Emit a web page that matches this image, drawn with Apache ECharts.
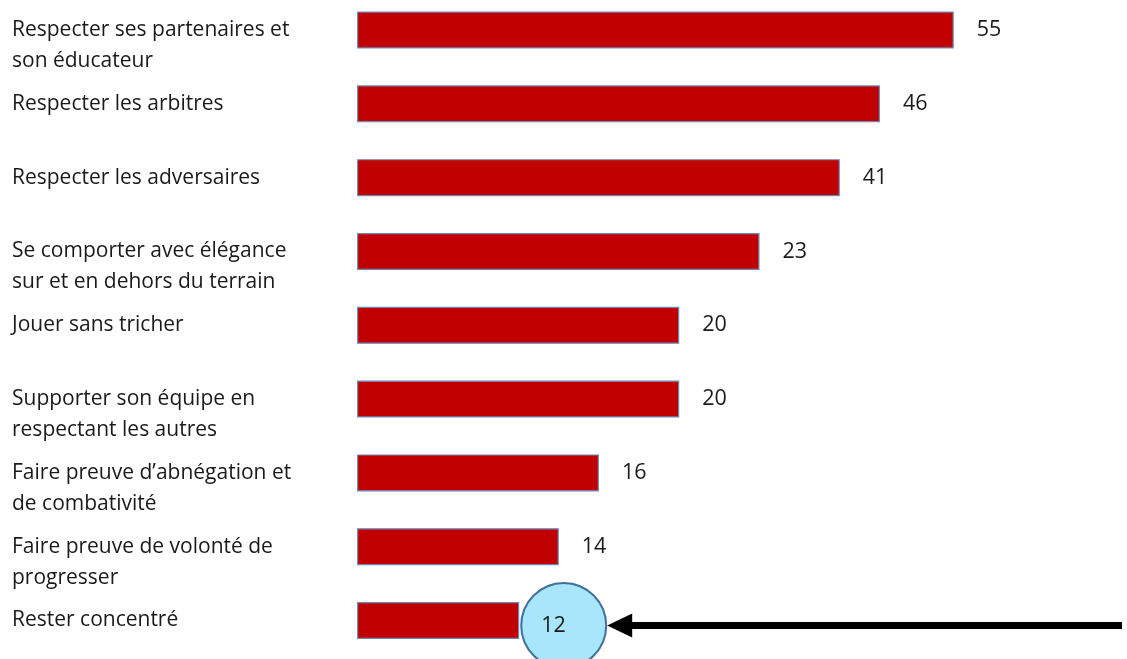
<!DOCTYPE html>
<html>
<head>
<meta charset="utf-8">
<script src="https://cdn.jsdelivr.net/npm/echarts@6/dist/echarts.min.js"></script>
<style>
html,body{margin:0;padding:0;background:#fff;}
#chart{width:1127px;height:659px;}
</style>
</head>
<body>
<div id="chart"></div>
<script>
// Categories (top to bottom)
const categories = [
  'Respecter ses partenaires et\nson éducateur',
  'Respecter les arbitres',
  'Respecter les adversaires',
  'Se comporter avec élégance\nsur et en dehors du terrain',
  'Jouer sans tricher',
  'Supporter son équipe en\nrespectant les autres',
  'Faire preuve d’abnégation et\nde combativité',
  'Faire preuve de volonté de\nprogresser',
  'Rester concentré'
];
// Printed values
const values = [55, 46, 41, 23, 20, 20, 16, 14, 12];
// Drawn bar lengths (same scale as the 55 bar)
const barLengths = [55, 48.2, 44.5, 37.1, 29.7, 29.7, 22.3, 18.6, 14.95];
const highlightIndex = 8;

const FONT = '"Open Sans", "Noto Sans", sans-serif';
const chart = echarts.init(document.getElementById('chart'), null, {renderer: 'canvas'});

const data = barLengths.map((v, i) => {
  const item = {value: v};
  if (i === highlightIndex) {
    item.label = {
      distance: 3,
      width: 64,
      height: 78,
      lineHeight: 78,
      padding: [5, 0, 0, 19],
      backgroundColor: '#a7e6fb',
      borderColor: '#41719c',
      borderWidth: 2,
      borderRadius: 42,
      offset: [0, 5]
    };
  }
  return item;
});

chart.setOption({
  animation: false,
  backgroundColor: '#ffffff',
  grid: {left: 357, width: 651, top: 30, bottom: 38.5, containLabel: false, outerBoundsMode: 'none'},
  xAxis: {type: 'value', min: 0, max: 60, show: false},
  yAxis: {
    type: 'category',
    data: categories,
    inverse: true,
    boundaryGap: false,
    axisLine: {show: false},
    axisTick: {show: false},
    splitLine: {show: false},
    axisLabel: {
      align: 'left',
      margin: 345,
      fontFamily: FONT,
      fontSize: 21,
      lineHeight: 31,
      color: '#1a1a1a',
      formatter: v => (v.indexOf('\n') >= 0 ? '\n' + v : v)
    }
  },
  series: [{
    type: 'bar',
    data: data,
    barWidth: 37,
    itemStyle: {color: '#c00000', borderColor: '#6d8bb5', borderWidth: 1.2},
    label: {
      show: true,
      position: 'right',
      distance: 23,
      fontFamily: FONT,
      fontSize: 21.5,
      color: '#1a1a1a',
      formatter: p => String(values[p.dataIndex])
    }
  }]
});

// Arrow pointing at the highlighted value
const p = chart.convertToPixel({seriesIndex: 0}, [barLengths[highlightIndex], highlightIndex]);
const tipX = p[0] + 3 + 83 + 2;
const tipY = p[1] + 5;
chart.setOption({
  graphic: [
    {type: 'line', shape: {x1: tipX + 20, y1: tipY, x2: 1122, y2: tipY}, style: {stroke: '#000', lineWidth: 7}},
    {type: 'polygon', shape: {points: [[tipX, tipY], [tipX + 25, tipY - 12], [tipX + 25, tipY + 12]]}, style: {fill: '#000'}}
  ]
});
</script>
</body>
</html>
